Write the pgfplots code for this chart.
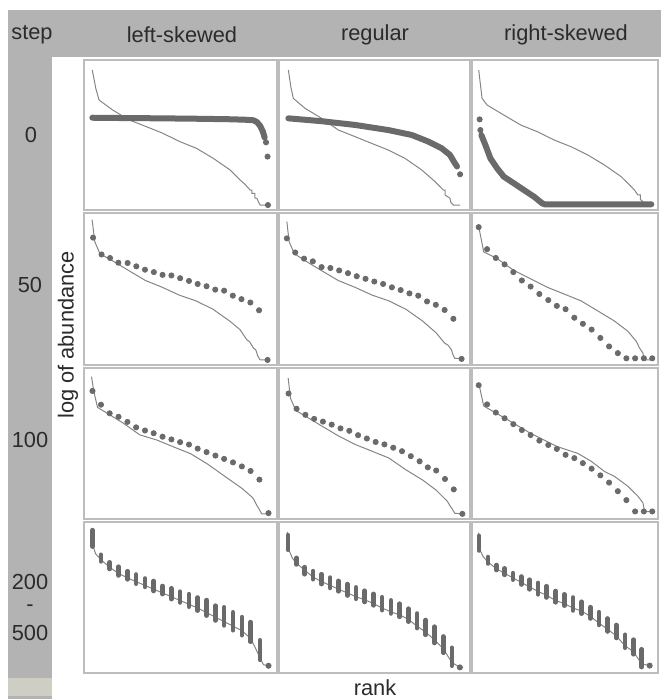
\documentclass[border=0pt]{standalone}
\usepackage{pgfplots}
\pgfplotsset{compat=1.18}
\usepackage{fontspec}
\setmainfont{Liberation Sans}

\definecolor{hdr}{HTML}{B3B3B3}
\definecolor{framecol}{HTML}{BDBDBD}
\definecolor{curvecol}{HTML}{858585}
\definecolor{dotcol}{HTML}{6A6A6A}
\definecolor{txt}{HTML}{2B2B2B}

\pgfplotsset{
  panel/.style={scale only axis, anchor=south west,
    xmin=0, xmax=1, ymin=0, ymax=1, ticks=none, clip=false,
    axis line style={draw=framecol, line width=0.8pt}},
  curve/.style={color=curvecol, line width=0.5pt, mark=none},
  dots/.style={only marks, mark=*, mark size=1.3pt, color=dotcol},
  band/.style={color=dotcol, line width=3pt, line cap=round, mark=none},
  bars/.style={draw=none, mark=none,
    error bars/.cd, y dir=plus, y explicit, error mark=none,
    error bar style={draw=dotcol, line width=2.3pt, line cap=round}},
}

\begin{document}
\begin{tikzpicture}[x=0.5pt,y=0.5pt]
\path[use as bounding box] (0,0) rectangle (661,699);
\fill[hdr] (8,642) rectangle (661,689);
\fill[hdr] (8,0) rectangle (52,689);
\fill[color={rgb,255:red,206;green,206;blue,196}] (8,3) rectangle (52,21);

\tikzset{lab/.style={text=txt, font=\fontsize{10.9}{13}\selectfont}}
\node[lab] at (32,664) {step};
\node[lab] at (182,664) {left-skewed};
\node[lab] at (375,664) {regular};
\node[lab] at (566,664) {right-skewed};
\node[lab] at (31,564) {0};
\node[lab] at (30,414) {50};
\node[lab] at (30,259) {100};
\node[lab] at (30,117) {200};
\node[lab] at (30,91) {-};
\node[lab] at (30,66) {500};
\node[lab, rotate=90] at (68,364) {log of abundance};
\node[lab] at (375,11) {rank};

% ---------- step 0 ----------
\begin{axis}[panel, at={(42pt,244.5pt)}, width=96.5pt, height=75pt]
\addplot[curve] coordinates {(0.043,0.933)(0.061,0.811)(0.078,0.733)(0.148,0.667)(0.235,0.6)(0.322,0.556)(0.409,0.511)(0.496,0.456)(0.583,0.411)(0.670,0.344)(0.757,0.267)(0.809,0.2)(0.835,0.17)(0.861,0.133)(0.87,0.133)(0.87,0.11)(0.885,0.11)(0.885,0.08)(0.896,0.078)(0.905,0.05)(0.913,0.033)(0.965,0.033)};
\addplot[band] coordinates {(0.043,0.615)(0.2,0.613)(0.4,0.611)(0.6,0.608)(0.75,0.605)(0.83,0.602)(0.878,0.598)(0.896,0.586)(0.913,0.56)(0.927,0.522)(0.936,0.482)};
\addplot[dots] coordinates {(0.943,0.451)(0.951,0.356)(0.953,0.033)};
\end{axis}

\begin{axis}[panel, at={(139.5pt,244.5pt)}, width=95.5pt, height=75pt]
\addplot[curve] coordinates {(0.049,0.933)(0.062,0.82)(0.075,0.744)(0.136,0.678)(0.223,0.611)(0.311,0.533)(0.398,0.489)(0.485,0.444)(0.572,0.4)(0.66,0.344)(0.747,0.267)(0.817,0.189)(0.86,0.133)(0.87,0.133)(0.87,0.1)(0.895,0.078)(0.9,0.05)(0.913,0.033)(0.948,0.033)};
\addplot[band] coordinates {(0.049,0.611)(0.223,0.592)(0.398,0.567)(0.572,0.533)(0.695,0.5)(0.782,0.456)(0.852,0.411)(0.895,0.367)(0.921,0.311)(0.932,0.29)};
\addplot[dots] coordinates {(0.948,0.238)};
\end{axis}

\begin{axis}[panel, at={(236pt,244.5pt)}, width=93pt, height=75pt]
\addplot[curve] coordinates {(0.036,0.933)(0.054,0.744)(0.081,0.7)(0.171,0.633)(0.261,0.567)(0.351,0.522)(0.441,0.467)(0.532,0.422)(0.622,0.367)(0.712,0.3)(0.802,0.222)(0.856,0.156)(0.875,0.13)(0.892,0.1)(0.905,0.1)(0.905,0.07)(0.919,0.056)(0.928,0.033)(0.964,0.033)};
\addplot[band] coordinates {(0.05,0.5)(0.072,0.433)(0.099,0.344)(0.135,0.278)(0.171,0.222)(0.225,0.178)(0.279,0.133)(0.333,0.089)(0.378,0.044)(0.39,0.038)(0.964,0.038)};
\addplot[dots] coordinates {(0.041,0.604)(0.045,0.533)};
\end{axis}

% ---------- step 50 ----------
\begin{axis}[panel, at={(42pt,167pt)}, width=96.5pt, height=76pt]
\addplot[curve] coordinates {(0.042,0.956)(0.056,0.811)(0.082,0.733)(0.143,0.689)(0.231,0.622)(0.318,0.556)(0.406,0.511)(0.493,0.46)(0.58,0.422)(0.668,0.367)(0.755,0.289)(0.808,0.233)(0.843,0.167)(0.86,0.15)(0.878,0.111)(0.89,0.1)(0.9,0.06)(0.913,0.033)(0.951,0.033)};
\addplot[dots] coordinates {(0.047,0.838)(0.091,0.727)(0.135,0.704)(0.178,0.673)(0.226,0.671)(0.271,0.649)(0.316,0.627)(0.362,0.611)(0.407,0.593)(0.453,0.589)(0.498,0.571)(0.544,0.553)(0.589,0.533)(0.635,0.518)(0.68,0.496)(0.726,0.489)(0.771,0.456)(0.816,0.433)(0.862,0.411)(0.907,0.36)(0.951,0.033)};
\end{axis}

\begin{axis}[panel, at={(139.5pt,167pt)}, width=95.5pt, height=76pt]
\addplot[curve] coordinates {(0.041,0.944)(0.053,0.811)(0.08,0.733)(0.133,0.689)(0.221,0.622)(0.31,0.556)(0.398,0.511)(0.487,0.46)(0.575,0.422)(0.664,0.367)(0.752,0.289)(0.823,0.211)(0.867,0.144)(0.885,0.13)(0.903,0.1)(0.91,0.07)(0.92,0.044)(0.956,0.044)};
\addplot[dots] coordinates {(0.041,0.833)(0.085,0.74)(0.131,0.7)(0.177,0.682)(0.223,0.644)(0.269,0.638)(0.315,0.622)(0.361,0.604)(0.407,0.584)(0.453,0.567)(0.499,0.549)(0.545,0.533)(0.591,0.511)(0.637,0.493)(0.683,0.471)(0.729,0.456)(0.775,0.418)(0.821,0.396)(0.867,0.362)(0.913,0.304)(0.956,0.04)};
\end{axis}

\begin{axis}[panel, at={(236pt,167pt)}, width=93pt, height=76pt]
\addplot[curve] coordinates {(0.036,0.911)(0.063,0.744)(0.135,0.7)(0.225,0.622)(0.315,0.567)(0.405,0.511)(0.495,0.467)(0.586,0.422)(0.676,0.356)(0.766,0.289)(0.838,0.222)(0.883,0.156)(0.901,0.111)(0.919,0.078)(0.925,0.033)(0.975,0.033)};
\addplot[dots] coordinates {(0.036,0.907)(0.081,0.762)(0.128,0.704)(0.175,0.662)(0.222,0.611)(0.268,0.556)(0.315,0.516)(0.362,0.467)(0.41,0.427)(0.456,0.389)(0.503,0.367)(0.55,0.311)(0.596,0.271)(0.643,0.233)(0.69,0.178)(0.737,0.122)(0.784,0.078)(0.83,0.044)(0.877,0.044)(0.924,0.044)(0.969,0.044)};
\end{axis}

% ---------- step 100 ----------
\begin{axis}[panel, at={(42pt,90pt)}, width=96.5pt, height=75.5pt]
\addplot[curve] coordinates {(0.039,0.943)(0.05,0.85)(0.07,0.739)(0.114,0.705)(0.202,0.636)(0.289,0.557)(0.377,0.523)(0.465,0.477)(0.553,0.432)(0.64,0.364)(0.728,0.284)(0.816,0.205)(0.868,0.148)(0.88,0.13)(0.895,0.091)(0.905,0.07)(0.921,0.034)(0.956,0.034)};
\addplot[dots] coordinates {(0.044,0.848)(0.088,0.757)(0.133,0.7)(0.179,0.677)(0.225,0.643)(0.27,0.607)(0.316,0.586)(0.361,0.568)(0.407,0.545)(0.453,0.527)(0.498,0.509)(0.544,0.493)(0.589,0.466)(0.635,0.443)(0.681,0.42)(0.726,0.398)(0.772,0.375)(0.818,0.348)(0.863,0.318)(0.909,0.261)(0.956,0.039)};
\end{axis}

\begin{axis}[panel, at={(139.5pt,90pt)}, width=95.5pt, height=75.5pt]
\addplot[curve] coordinates {(0.048,0.933)(0.06,0.8)(0.088,0.719)(0.133,0.685)(0.221,0.618)(0.31,0.551)(0.398,0.494)(0.487,0.449)(0.575,0.404)(0.664,0.326)(0.752,0.258)(0.823,0.191)(0.867,0.135)(0.88,0.12)(0.894,0.09)(0.905,0.07)(0.92,0.038)(0.96,0.034)};
\addplot[dots] coordinates {(0.05,0.831)(0.092,0.73)(0.138,0.69)(0.184,0.663)(0.23,0.645)(0.276,0.625)(0.322,0.6)(0.368,0.584)(0.414,0.555)(0.46,0.533)(0.506,0.51)(0.552,0.494)(0.598,0.472)(0.644,0.449)(0.69,0.416)(0.736,0.382)(0.779,0.342)(0.823,0.321)(0.869,0.265)(0.915,0.196)(0.96,0.034)};
\end{axis}

\begin{axis}[panel, at={(236pt,90pt)}, width=93pt, height=75.5pt]
\addplot[curve] coordinates {(0.036,0.9)(0.063,0.748)(0.171,0.672)(0.315,0.567)(0.459,0.479)(0.568,0.435)(0.64,0.383)(0.712,0.315)(0.766,0.282)(0.838,0.217)(0.892,0.151)(0.919,0.107)(0.928,0.048)(0.973,0.048)};
\addplot[dots] coordinates {(0.036,0.886)(0.081,0.759)(0.128,0.705)(0.175,0.667)(0.222,0.628)(0.268,0.589)(0.315,0.556)(0.362,0.519)(0.41,0.49)(0.456,0.464)(0.503,0.425)(0.55,0.403)(0.596,0.37)(0.643,0.333)(0.69,0.289)(0.737,0.241)(0.784,0.184)(0.83,0.125)(0.877,0.05)(0.924,0.05)(0.969,0.05)};
\end{axis}

% ---------- step 200 - 500 ----------
\begin{axis}[panel, at={(42pt,13pt)}, width=96.5pt, height=75.5pt]
\addplot[curve] coordinates {(0.039,0.946)(0.042,0.86)(0.06,0.79)(0.088,0.75)(0.133,0.7)(0.179,0.66)(0.225,0.63)(0.27,0.605)(0.316,0.58)(0.361,0.555)(0.407,0.53)(0.453,0.505)(0.498,0.48)(0.544,0.455)(0.589,0.43)(0.635,0.4)(0.681,0.37)(0.726,0.34)(0.772,0.31)(0.818,0.28)(0.863,0.23)(0.89,0.16)(0.912,0.1)(0.93,0.055)(0.956,0.048)};
\addplot[bars] table[x=x, y=lo, y error plus expr=\thisrow{hi}-\thisrow{lo}] {
x lo hi
0.044 0.837 0.946
0.088 0.739 0.783
0.133 0.689 0.733
0.179 0.646 0.704
0.225 0.620 0.674
0.270 0.591 0.652
0.316 0.570 0.626
0.361 0.543 0.609
0.407 0.522 0.576
0.453 0.489 0.561
0.498 0.467 0.539
0.544 0.439 0.522
0.589 0.413 0.500
0.635 0.380 0.483
0.681 0.348 0.446
0.726 0.315 0.435
0.772 0.283 0.402
0.818 0.250 0.370
0.863 0.207 0.337
0.912 0.087 0.217
};
\addplot[dots] coordinates {(0.956,0.048)};
\end{axis}

\begin{axis}[panel, at={(139.5pt,13pt)}, width=95.5pt, height=75.5pt]
\addplot[curve] coordinates {(0.044,0.935)(0.047,0.83)(0.07,0.76)(0.091,0.728)(0.135,0.68)(0.179,0.635)(0.223,0.605)(0.268,0.58)(0.312,0.555)(0.358,0.53)(0.404,0.505)(0.449,0.485)(0.495,0.46)(0.54,0.43)(0.586,0.405)(0.632,0.385)(0.677,0.355)(0.723,0.31)(0.768,0.27)(0.814,0.22)(0.86,0.16)(0.905,0.07)(0.947,0.037)};
\addplot[bars] table[x=x, y=lo, y error plus expr=\thisrow{hi}-\thisrow{lo}] {
x lo hi
0.047 0.816 0.913
0.091 0.719 0.762
0.135 0.654 0.701
0.179 0.621 0.675
0.223 0.589 0.654
0.268 0.563 0.632
0.312 0.541 0.610
0.358 0.513 0.589
0.404 0.491 0.567
0.449 0.470 0.545
0.495 0.448 0.524
0.540 0.416 0.502
0.586 0.394 0.481
0.632 0.372 0.459
0.677 0.340 0.426
0.723 0.297 0.394
0.768 0.253 0.351
0.814 0.199 0.307
0.860 0.134 0.242
0.905 0.048 0.167
};
\addplot[dots] coordinates {(0.947,0.037)};
\end{axis}

\begin{axis}[panel, at={(236pt,13pt)}, width=93pt, height=75.5pt]
\addplot[curve] coordinates {(0.035,0.93)(0.038,0.83)(0.06,0.77)(0.086,0.735)(0.131,0.69)(0.176,0.66)(0.22,0.63)(0.265,0.6)(0.31,0.57)(0.355,0.54)(0.4,0.515)(0.45,0.48)(0.496,0.46)(0.543,0.43)(0.59,0.41)(0.636,0.375)(0.683,0.33)(0.729,0.29)(0.776,0.245)(0.823,0.18)(0.869,0.14)(0.912,0.06)(0.955,0.049)};
\addplot[bars] table[x=x, y=lo, y error plus expr=\thisrow{hi}-\thisrow{lo}] {
x lo hi
0.038 0.811 0.908
0.086 0.725 0.768
0.131 0.682 0.715
0.176 0.650 0.693
0.220 0.618 0.661
0.265 0.586 0.639
0.310 0.554 0.618
0.355 0.521 0.597
0.400 0.500 0.575
0.450 0.468 0.543
0.496 0.446 0.521
0.543 0.414 0.500
0.590 0.393 0.472
0.636 0.361 0.436
0.683 0.318 0.403
0.729 0.275 0.361
0.776 0.232 0.318
0.823 0.167 0.253
0.869 0.124 0.221
0.912 0.039 0.157
};
\addplot[dots] coordinates {(0.955,0.049)};
\end{axis}
\end{tikzpicture}
\end{document}
